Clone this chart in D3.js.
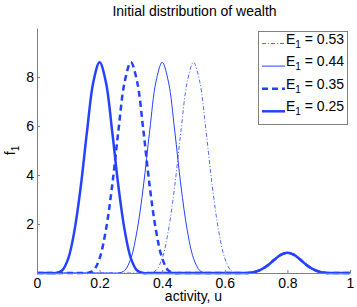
<!DOCTYPE html>
<html>
<head>
<meta charset="utf-8">
<script src="https://cdn.jsdelivr.net/npm/d3@7"></script>
<style>
  body { margin: 0; background: #fff; }
  text { font-family: "Liberation Sans", Arial, sans-serif; fill: #000; }
</style>
</head>
<body>
<script>
// activity grid, step 0.02
let u = [0,0.02,0.04,0.06,0.08,0.1,0.12,0.14,0.16,0.18,0.2,0.22,0.24,0.26,0.28,0.3,0.32,0.34,0.36,0.38,
  0.4,0.42,0.44,0.46,0.48,0.5,0.52,0.54,0.56,0.58,0.6,0.62,0.64,0.66,0.68,0.7,0.72,0.74,0.76,0.78,
  0.8,0.82,0.84,0.86,0.88,0.9,0.92,0.94,0.96,0.98,1]

let f053 = [0,0,0,0,0,0,0,0,0,0,0,0,0,0,0,0,0,0,0,0.1,
  0.6,1.75,3.55,5.8,7.8,8.6,7.8,5.8,3.55,1.75,0.6,0.1,0,0,0.01,0.06,0.17,0.34,0.56,0.75,
  0.83,0.75,0.56,0.34,0.17,0.06,0.01,0,0,0,0]
let f044 = [0,0,0,0,0,0,0,0,0,0,0,0,0,0,0.1,0.6,1.75,3.55,5.8,7.8,
  8.6,7.8,5.8,3.55,1.75,0.6,0.1,0,0,0,0,0,0,0,0.01,0.06,0.17,0.34,0.56,0.75,
  0.83,0.75,0.56,0.34,0.17,0.06,0.01,0,0,0,0]
let f035 = [0,0,0,0,0,0,0,0,0,0.1,0.6,1.75,3.55,5.8,7.8,8.6,7.8,5.8,3.55,1.75,
  0.6,0.1,0,0,0,0,0,0,0,0,0,0,0,0,0.01,0.06,0.17,0.34,0.56,0.75,
  0.83,0.75,0.56,0.34,0.17,0.06,0.01,0,0,0,0]
let f025 = [0,0,0,0,0.1,0.6,1.75,3.55,5.8,7.8,8.6,7.8,5.8,3.55,1.75,0.6,0.1,0,0,0,
  0,0,0,0,0,0,0,0,0,0,0,0,0,0,0.01,0.06,0.17,0.34,0.56,0.75,
  0.83,0.75,0.56,0.34,0.17,0.06,0.01,0,0,0,0]

let labels = ['0.53', '0.44', '0.35', '0.25']
let xTicks = [0, 0.2, 0.4, 0.6, 0.8, 1]
let xTickLabels = ['0', '0.2', '0.4', '0.6', '0.8', '1']
let yTicks = [2, 4, 6, 8]

let series = [
  { vals: f053, width: 0.8, dash: '4,2,1,2' },
  { vals: f044, width: 1, dash: null },
  { vals: f035, width: 2.5, dash: '6,4' },
  { vals: f025, width: 2.5, dash: null }
]

let w = 357, h = 307
let mLeft = 37, mRight = 350, mTop = 28, mBottom = 273
let blue = '#2442ff'
let axisColor = '#808080'
let fs = 14

let svg = d3.select('body').append('svg').attr('width', w).attr('height', h)

let x = d3.scaleLinear().domain([0, 1]).range([mLeft, mRight])
let y = d3.scaleLinear().domain([0, 10]).range([mBottom, mTop])

// title
svg.append('text').attr('x', (mLeft + mRight) / 2 + 1).attr('y', 16)
  .attr('text-anchor', 'middle').attr('font-size', fs)
  .text('Initial distribution of wealth')

// curves
let line = d3.line().x((d, i) => x(u[i])).y(d => y(d)).curve(d3.curveCatmullRom)
series.forEach(s => {
  svg.append('path').attr('d', line(s.vals))
    .attr('fill', 'none').attr('stroke', blue)
    .attr('stroke-width', s.width)
    .attr('stroke-dasharray', s.dash)
})

// axes, ticks inside
let xAxis = svg.append('g').attr('transform', 'translate(0,' + mBottom + ')')
  .call(d3.axisBottom(x).tickValues(xTicks).tickFormat((d, i) => xTickLabels[i]).tickSizeInner(-3).tickSizeOuter(0).tickPadding(5))
let yAxis = svg.append('g').attr('transform', 'translate(' + mLeft + ',0)')
  .call(d3.axisLeft(y).tickValues(yTicks).tickSizeInner(-3).tickSizeOuter(0).tickPadding(3))

;[xAxis, yAxis].forEach(g => {
  g.select('.domain').attr('stroke', axisColor)
  g.selectAll('.tick line').attr('stroke', axisColor)
  g.selectAll('.tick text').attr('font-size', fs).attr('font-family', '"Liberation Sans", Arial, sans-serif').attr('fill', '#000')
})

// axis labels
svg.append('text').attr('x', (mLeft + mRight) / 2).attr('y', 301)
  .attr('text-anchor', 'middle').attr('font-size', fs)
  .text('activity, u')

let yl = svg.append('text').attr('transform', 'translate(15,' + ((mTop + mBottom) / 2) + ') rotate(-90)')
  .attr('text-anchor', 'middle').attr('font-size', fs)
yl.append('tspan').text('f')
yl.append('tspan').attr('dy', 4).attr('font-size', 10).text('1')

// legend
let lg = svg.append('g')
lg.append('rect').attr('x', 258.5).attr('y', 31.5).attr('width', 89).attr('height', 93)
  .attr('fill', '#fff').attr('stroke', axisColor)
labels.forEach((lab, i) => {
  let ly = 43.5 + i * 22.6
  let s = series[i]
  lg.append('line').attr('x1', 262).attr('x2', 285).attr('y1', ly).attr('y2', ly)
    .attr('stroke', blue).attr('stroke-width', s.width)
    .attr('stroke-dasharray', s.dash)
  let t = lg.append('text').attr('x', 286).attr('y', ly).attr('font-size', fs)
  t.append('tspan').text('E')
  t.append('tspan').attr('dy', 4).attr('font-size', 10).text('1')
  t.append('tspan').attr('dy', -4).text(' = ' + lab)
})
</script>
</body>
</html>
